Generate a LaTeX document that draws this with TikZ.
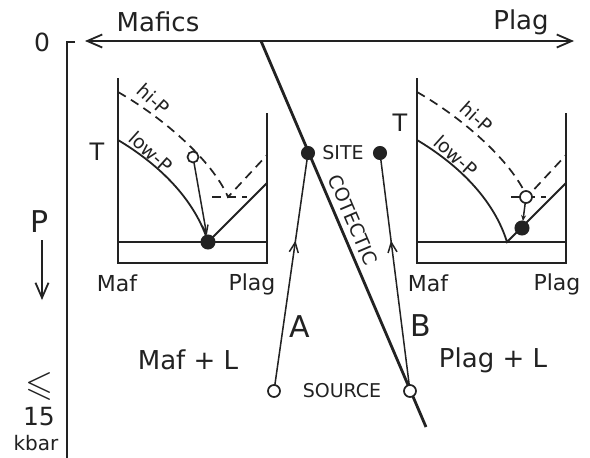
\documentclass[tikz,border=0pt]{standalone}
\usepackage{fontspec}
\setmainfont{DejaVu Sans}
\usepackage{amssymb}
\usetikzlibrary{arrows.meta,decorations.markings}
\definecolor{ink}{HTML}{222222}
\tikzset{phasepic/.pic={
  \draw[ln] (0,-185) -- (0,0) -- (149,0) -- (149,-150);
  \draw[ln] (0,-21) -- (149,-21);
  \draw[ln] (0,-123) .. controls (42,-98) and (77,-63) .. (90,-21) -- (149,-80);
  \draw[dsh] (0,-171) .. controls (44,-146) and (94,-103) .. (110,-66) -- (149,-108);
  \draw[dsh] (94,-66) -- (129,-66);
}}
\begin{document}
\begin{tikzpicture}[x=1pt,y=-1pt,
  every node/.style={text=ink,inner sep=0pt,outer sep=0pt},
  ln/.style={draw=ink,line width=1.8pt},
  thinln/.style={draw=ink,line width=1.5pt},
  dsh/.style={draw=ink,line width=1.7pt,dash pattern=on 9pt off 6pt},
  fdot/.style={circle,fill=ink,draw=ink,minimum size=13pt,line width=1pt},
  odot/.style={circle,fill=white,draw=ink,line width=1.7pt,minimum size=12pt},
  fbig/.style={font=\fontsize{26}{26}\selectfont},
  fhuge/.style={font=\fontsize{30}{30}\selectfont},
  fmid/.style={font=\fontsize{22}{22}\selectfont},
  fsmall/.style={font=\fontsize{19}{19}\selectfont},
  fcurve/.style={font=\fontsize{19}{19}\selectfont},
  >={Straight Barb[length=15pt,width=13pt]},
  midarr/.style={postaction={decorate},decoration={markings,
     mark=at position 0.64 with {\arrow{Straight Barb[length=10pt,width=9pt]}}}},
 ]
\useasboundingbox[fill=white] (0,0) rectangle (590,458);

% pressure axis
\coordinate (axTick) at (75,42);
\coordinate (axTop) at (67,42);
\coordinate (axBot) at (67,458);
\draw[ln] (axTick) -- (axTop) -- (axBot);
\node[font=\fontsize{25}{25}\selectfont] (zero) at (42,42) {0};
\node[fhuge] (plabel) at (40,222) {P};
\coordinate (pA) at (42,240);
\coordinate (pB) at (42,300);
\draw[ln,->] (pA) -- (pB);
\node[font=\fontsize{36}{36}\selectfont] (leq) at (40,386) {$\leqslant$};
\node[font=\fontsize{25}{25}\selectfont] (fifteen) at (39,417) {15};
\node[font=\fontsize{20}{20}\selectfont] (kbar) at (36,443) {kbar};

% composition axis
\coordinate (mafTip) at (85,41);
\coordinate (plagTip) at (574,41);
\draw[ln,<->] (mafTip) -- (plagTip);
\node[fbig] (mafics) at (158,22) {Mafics};
\node[fbig] (plagtop) at (521,22) {Plag};

% insets
\pic at (118,263) {phasepic};
\pic at (417,263) {phasepic};

\node[font=\fontsize{24}{24}\selectfont] (tL) at (97,152) {T};
\node[fcurve,rotate=-42] (hiL) at (154,99) {hi-P};
\node[fcurve,rotate=-42] (lowL) at (151,152) {low-P};
\node[fmid] (mafL) at (117,283) {Maf};
\node[fmid] (plagL) at (252,284) {Plag};
\node[odot,minimum size=11pt] (lopen) at (193,157) {};
\node[fdot,minimum size=14pt] (lfill) at (208,242) {};
\draw[thinln,-{Straight Barb[length=8pt,width=6pt]}] (lopen) -- (lfill);

\node[font=\fontsize{24}{24}\selectfont] (tR) at (400,123) {T};
\node[fcurve,rotate=-42] (hiR) at (477,117) {hi-P};
\node[fcurve,rotate=-42] (lowR) at (456,156) {low-P};
\node[fmid] (mafR) at (428,283) {Maf};
\node[fmid] (plagR) at (557,284) {Plag};
\node[odot,minimum size=12pt] (ropen) at (526,197) {};
\node[fdot,minimum size=14pt] (rfill) at (522,228) {};
\draw[thinln,-{Stealth[length=6pt,width=5pt]}] (ropen) -- (rfill);

% cotectic
\coordinate (coTop) at (261,41);
\coordinate (coBot) at (426,427);
\draw[draw=ink,line width=2.8pt] (coTop) -- (coBot);
\node[fsmall,rotate=-67] (cot) at (353,220) {COTECTIC};

\node[fdot] (site) at (308,153) {};
\node[fdot] (siteB) at (380,153) {};
\node[fsmall] (sitelbl) at (343,153) {SITE};
\node[odot] (srcA) at (274,391) {};
\node[odot] (srcB) at (410,391) {};
\node[fsmall] (srclbl) at (342,391) {SOURCE};
\draw[thinln,midarr] (srcA) -- (site);
\draw[thinln,midarr] (srcB) -- (siteB);
\node[fhuge] (labA) at (300,327) {A};
\node[fhuge] (labB) at (421,326) {B};
\node[fbig] (mafL2) at (188,360) {Maf + L};
\node[fbig] (plagL2) at (493,360) {Plag + L};
\end{tikzpicture}
\end{document}
